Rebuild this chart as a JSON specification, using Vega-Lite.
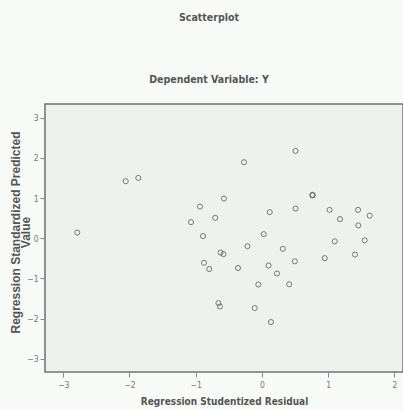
{
  "$schema": "https://vega.github.io/schema/vega-lite/v6.json",
  "autosize": {"type": "none"},
  "padding": {"left": 45, "top": 104, "right": 0, "bottom": 38},
  "width": 358,
  "height": 268,
  "background": "#f8faf8",
  "config": {
    "view": {"fill": "#eef2ee", "stroke": "#707070", "strokeWidth": 1.5},
    "font": "DejaVu Sans Condensed, Liberation Sans"
  },
  "title": {
    "text": "Scatterplot",
    "subtitle": "Dependent Variable: Y",
    "anchor": "middle",
    "dx": -15,
    "offset": 19,
    "font": "DejaVu Sans Condensed, Liberation Sans",
    "fontSize": 10.5,
    "fontWeight": "bold",
    "color": "#555555",
    "subtitleFont": "DejaVu Sans Condensed, Liberation Sans",
    "subtitleFontSize": 10.5,
    "subtitleFontWeight": "bold",
    "subtitleColor": "#555555",
    "subtitlePadding": 51
  },
  "data": {
    "values": [
      {"residual": -2.789, "predicted": 0.140},
      {"residual": -2.057, "predicted": 1.418},
      {"residual": -1.867, "predicted": 1.500},
      {"residual": -1.071, "predicted": 0.399},
      {"residual": -0.935, "predicted": 0.787},
      {"residual": -0.890, "predicted": 0.053},
      {"residual": -0.270, "predicted": 1.891},
      {"residual": -0.573, "predicted": 0.986},
      {"residual": -0.705, "predicted": 0.506},
      {"residual": 0.118, "predicted": 0.648},
      {"residual": 0.027, "predicted": 0.101},
      {"residual": -0.218, "predicted": -0.198},
      {"residual": 0.316, "predicted": -0.265},
      {"residual": -0.625, "predicted": -0.357},
      {"residual": -0.580, "predicted": -0.397},
      {"residual": 0.508, "predicted": 2.172},
      {"residual": 0.762, "predicted": 1.065},
      {"residual": 0.766, "predicted": 1.080},
      {"residual": 0.508, "predicted": 0.737},
      {"residual": 1.021, "predicted": 0.705},
      {"residual": 1.180, "predicted": 0.476},
      {"residual": 1.452, "predicted": 0.705},
      {"residual": 1.628, "predicted": 0.561},
      {"residual": 1.456, "predicted": 0.319},
      {"residual": 1.100, "predicted": -0.078},
      {"residual": 1.553, "predicted": -0.053},
      {"residual": -0.875, "predicted": -0.613},
      {"residual": -0.796, "predicted": -0.767},
      {"residual": -0.361, "predicted": -0.742},
      {"residual": 0.100, "predicted": -0.680},
      {"residual": 0.228, "predicted": -0.879},
      {"residual": 0.497, "predicted": -0.576},
      {"residual": 0.949, "predicted": -0.496},
      {"residual": 1.406, "predicted": -0.407},
      {"residual": -0.054, "predicted": -1.152},
      {"residual": 0.412, "predicted": -1.147},
      {"residual": -0.656, "predicted": -1.615},
      {"residual": -0.633, "predicted": -1.699},
      {"residual": -0.109, "predicted": -1.739},
      {"residual": 0.137, "predicted": -2.087}
    ]
  },
  "mark": {"type": "point", "shape": "circle", "filled": false, "stroke": "#444444", "strokeWidth": 1, "size": 26},
  "encoding": {
    "x": {
      "field": "residual",
      "type": "quantitative",
      "scale": {"domain": [-3.276, 2.131], "nice": false, "zero": false},
      "axis": {
        "title": "Regression Studentized Residual",
        "values": [-3, -2, -1, 0, 1, 2],
        "grid": false,
        "domain": false,
        "tickSize": 5,
        "tickColor": "#888888",
        "labelFontSize": 8.5,
        "labelColor": "#777777",
        "labelPadding": 3,
        "titleFontSize": 10,
        "titleFontWeight": "bold",
        "titleColor": "#555555",
        "titlePadding": 8
      }
    },
    "y": {
      "field": "predicted",
      "type": "quantitative",
      "scale": {"domain": [-3.33, 3.34], "nice": false, "zero": false},
      "axis": {
        "title": ["Regression Standardized Predicted", "Value"],
        "values": [-3, -2, -1, 0, 1, 2, 3],
        "grid": false,
        "domain": false,
        "tickSize": 5,
        "tickColor": "#888888",
        "labelFontSize": 8.5,
        "labelColor": "#777777",
        "labelPadding": 2,
        "titleFont": "Liberation Sans",
        "titleFontSize": 12,
        "titleFontWeight": "bold",
        "titleColor": "#555555",
        "titleLineHeight": 10,
        "titleAngle": -90,
        "titleAlign": "center",
        "titleBaseline": "top",
        "titleX": -35,
        "titleY": 128
      }
    }
  }
}
